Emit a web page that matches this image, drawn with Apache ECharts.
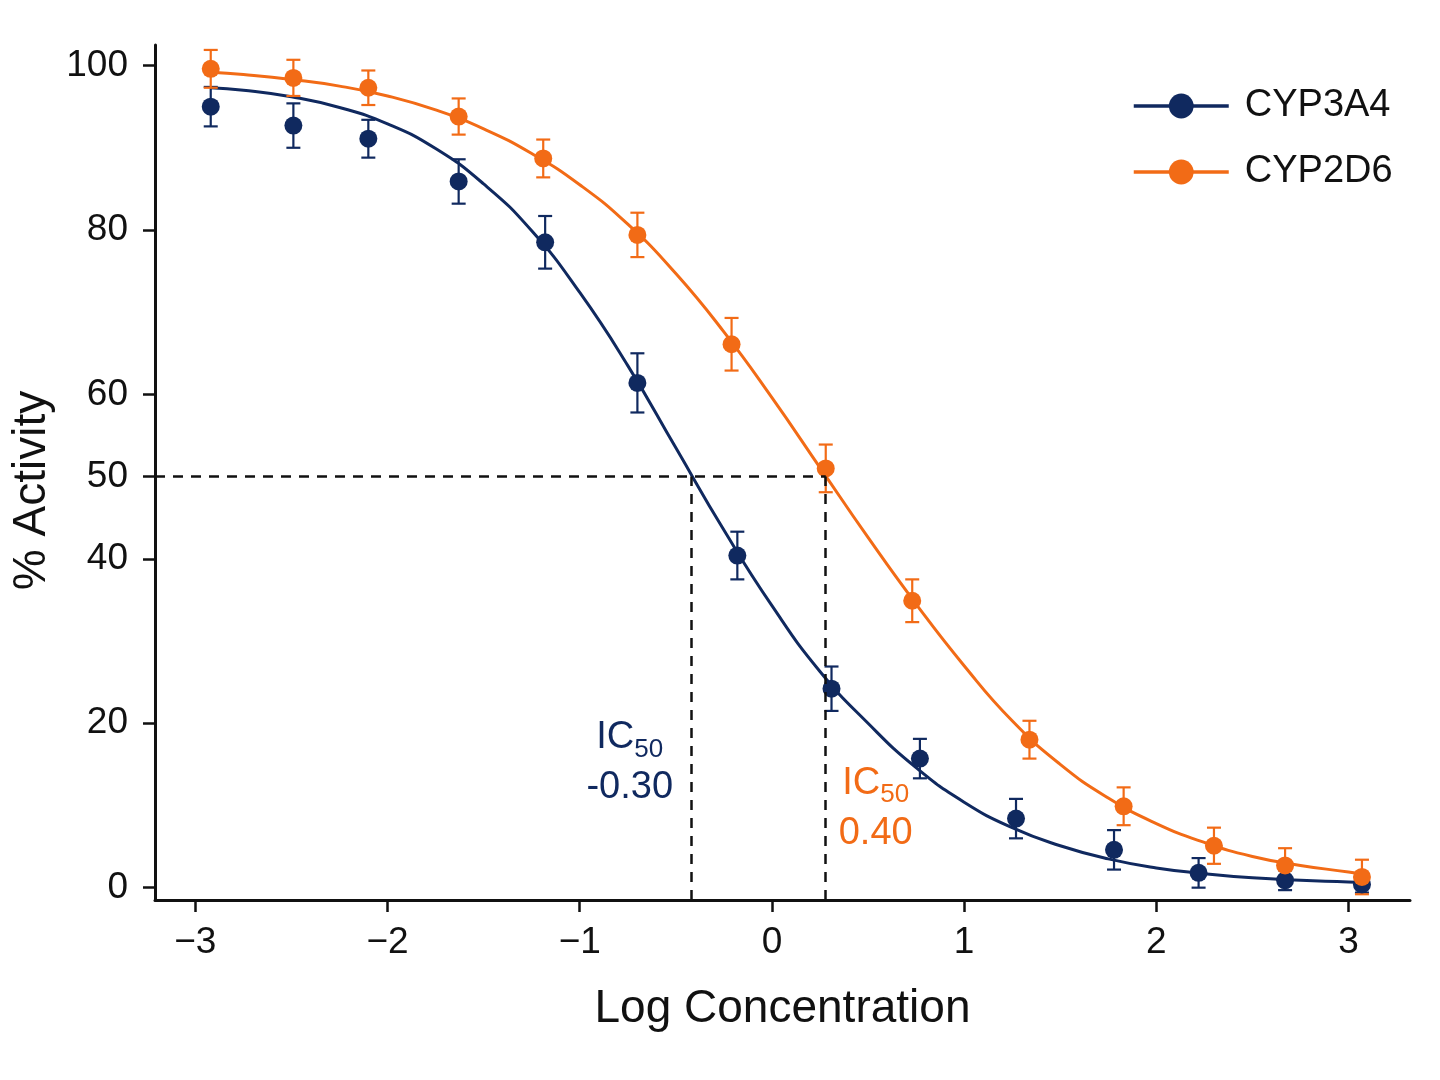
<!DOCTYPE html>
<html lang="en">
<head>
  <meta charset="UTF-8">
  <title>IC50 curves</title>
  <script src="https://cdn.jsdelivr.net/npm/echarts@6/dist/echarts.min.js"></script>
  <style>
    html, body { margin: 0; background: #fff; }
  </style>
</head>
<body>
  <div id="main" style="width:1440px;height:1080px"></div>

  <script>
    // measured points (log conc, % activity, error)
    var xPts = [-2.92, -2.49, -2.10, -1.63, -1.18, -0.70, -0.18, 0.31, 0.77, 1.27, 1.78, 2.22, 2.67, 3.07]
    var xPtsOrange = [-2.92, -2.49, -2.10, -1.63, -1.19, -0.70, -0.21, 0.28, 0.73, 1.34, 1.83, 2.30, 2.67, 3.07]
    var yNavy = [95.0, 92.7, 91.1, 85.9, 78.5, 61.4, 40.4, 24.2, 15.7, 8.4, 4.6, 1.8, 0.9, 0.4]
    var errNavy = [2.4, 2.7, 2.3, 2.7, 3.2, 3.6, 2.9, 2.7, 2.4, 2.4, 2.4, 1.8, 1.2, 1.0]
    var yOrange = [99.6, 98.5, 97.3, 93.8, 88.7, 79.4, 66.1, 51.0, 34.9, 18.0, 9.9, 5.1, 2.7, 1.3]
    var errOrange = [2.3, 2.2, 2.1, 2.2, 2.3, 2.7, 3.2, 2.9, 2.6, 2.3, 2.3, 2.2, 2.1, 2.1]

    // fitted curves
    var curveX = [-2.92, -2.75, -2.5, -2.25, -2.0, -1.75, -1.5, -1.25, -1.0, -0.75, -0.5, -0.25, 0,
      0.25, 0.5, 0.75, 1.0, 1.25, 1.5, 1.75, 2.0, 2.25, 2.5, 2.75, 3.0, 3.07]
    var curveNavy = [97.3, 97.0, 96.2, 94.9, 92.9, 89.9, 85.6, 79.9, 72.4, 63.5, 53.5, 43.5, 34.3,
      26.3, 20.0, 14.6, 10.4, 7.3, 5.1, 3.5, 2.4, 1.7, 1.2, 0.9, 0.7, 0.6]
    var curveOrange = [99.2, 98.9, 98.3, 97.5, 96.3, 94.6, 92.3, 89.3, 85.5, 80.7, 74.7, 67.6, 59.6,
      51.1, 42.6, 34.5, 27.0, 20.3, 15.0, 10.9, 7.8, 5.5, 3.8, 2.7, 1.9, 1.6]

    var xTicks = [-3, -2, -1, 0, 1, 2, 3]
    var yTicks = [0, 20, 40, 50, 60, 80, 100]

    // IC50 guide lines and labels
    var ic50Level = 50
    var ic50X = [-0.42, 0.28]
    var ic50Text = ['-0.30', '0.40']
    var ic50LabelPos = [[-0.74, 15.1], [0.54, 9.6]]

    var NAVY = '#10295f'
    var ORANGE = '#f26b16'
    var FONT = 'Liberation Sans'
    var xMin = -3.21, xMax = 3.32, yMin = -1.5, yMax = 102.5

    function pairs(xs, ys) {
      return xs.map(function (x, i) { return [x, ys[i]] })
    }

    function errorBars(name, xs, ys, errs, color) {
      return {
        type: 'custom',
        name: name,
        z: 3,
        data: xs.map(function (x, i) { return [x, ys[i] - errs[i], ys[i] + errs[i]] }),
        encode: { x: 0, y: [1, 2] },
        renderItem: function (params, api) {
          var lo = api.coord([api.value(0), api.value(1)])
          var hi = api.coord([api.value(0), api.value(2)])
          var w = 7
          var st = { stroke: color, lineWidth: 2.2 }
          return {
            type: 'group',
            children: [
              { type: 'line', shape: { x1: lo[0], y1: lo[1], x2: hi[0], y2: hi[1] }, style: st },
              { type: 'line', shape: { x1: lo[0] - w, y1: lo[1], x2: lo[0] + w, y2: lo[1] }, style: st },
              { type: 'line', shape: { x1: hi[0] - w, y1: hi[1], x2: hi[0] + w, y2: hi[1] }, style: st }
            ]
          }
        }
      }
    }

    function icLabel(i, color) {
      return {
        coord: ic50LabelPos[i],
        symbolSize: 1,
        itemStyle: { color: 'rgba(0,0,0,0)' },
        label: {
          show: true,
          position: 'inside',
          align: 'center',
          verticalAlign: 'middle',
          formatter: '{a|IC}{b|50}\n{a|' + ic50Text[i] + '}',
          rich: {
            a: { fontSize: 38, lineHeight: 50, color: color, fontFamily: FONT },
            b: { fontSize: 26, lineHeight: 20, color: color, fontFamily: FONT, verticalAlign: 'bottom' }
          }
        }
      }
    }

    var mCharts = echarts.init(document.getElementById('main'))
    var option = {
      animation: false,
      backgroundColor: '#fff',
      textStyle: { fontFamily: FONT },
      grid: { left: 155, right: 30, top: 45, bottom: 180 },
      legend: {
        data: ['CYP3A4', 'CYP2D6'],
        orient: 'vertical',
        left: 1127,
        top: 82,
        itemWidth: 95,
        itemHeight: 31,
        itemGap: 28,
        lineStyle: { width: 3.5 },
        textStyle: { fontSize: 38, color: '#111', padding: [0, 0, 0, 11] }
      },
      xAxis: {
        type: 'value',
        min: xMin,
        max: xMax,
        name: 'Log Concentration',
        nameLocation: 'middle',
        nameGap: 86,
        nameTextStyle: { fontSize: 46, color: '#111' },
        axisLine: { onZero: false, lineStyle: { color: '#111', width: 3 } },
        axisTick: { customValues: xTicks, length: 12, lineStyle: { color: '#111', width: 2.5 } },
        axisLabel: {
          customValues: xTicks,
          fontSize: 37,
          color: '#111',
          margin: 24,
          formatter: function (v) { return String(v).replace('-', '\u2212') }
        },
        splitLine: { show: false }
      },
      yAxis: {
        type: 'value',
        min: yMin,
        max: yMax,
        name: '% Activity',
        nameLocation: 'middle',
        nameGap: 96,
        nameTextStyle: { fontSize: 46, color: '#111', padding: [0, 36, 0, 0] },
        axisLine: { show: true, onZero: false, lineStyle: { color: '#111', width: 3 } },
        axisTick: { show: true, customValues: yTicks, length: 12, lineStyle: { color: '#111', width: 2.5 } },
        axisLabel: { customValues: yTicks, fontSize: 37, color: '#111', margin: 27 },
        splitLine: { show: false }
      },
      series: [
        {
          name: 'CYP3A4',
          type: 'line',
          data: pairs(curveX, curveNavy),
          smooth: 0.5,
          showSymbol: false,
          symbol: 'circle',
          z: 2,
          itemStyle: { color: NAVY },
          lineStyle: { color: NAVY, width: 3 },
          markLine: {
            silent: true,
            symbol: 'none',
            label: { show: false },
            lineStyle: { color: '#111', type: [10, 8], width: 2.5 },
            data: [
              [{ coord: [xMin, ic50Level] }, { coord: [ic50X[1], ic50Level] }],
              [{ coord: [ic50X[0], yMin] }, { coord: [ic50X[0], ic50Level] }],
              [{ coord: [ic50X[1], yMin] }, { coord: [ic50X[1], ic50Level] }]
            ]
          },
          markPoint: {
            silent: true,
            data: [icLabel(0, NAVY), icLabel(1, ORANGE)]
          }
        },
        {
          name: 'CYP2D6',
          type: 'line',
          data: pairs(curveX, curveOrange),
          smooth: 0.5,
          showSymbol: false,
          symbol: 'circle',
          z: 2,
          itemStyle: { color: ORANGE },
          lineStyle: { color: ORANGE, width: 3 }
        },
        errorBars('CYP3A4', xPts, yNavy, errNavy, NAVY),
        errorBars('CYP2D6', xPtsOrange, yOrange, errOrange, ORANGE),
        {
          name: 'CYP3A4',
          type: 'scatter',
          data: pairs(xPts, yNavy),
          symbolSize: 18,
          z: 4,
          itemStyle: { color: NAVY, opacity: 1 }
        },
        {
          name: 'CYP2D6',
          type: 'scatter',
          data: pairs(xPtsOrange, yOrange),
          symbolSize: 18,
          z: 4,
          itemStyle: { color: ORANGE, opacity: 1 }
        }
      ]
    }
    mCharts.setOption(option)
  </script>
</body>
</html>
